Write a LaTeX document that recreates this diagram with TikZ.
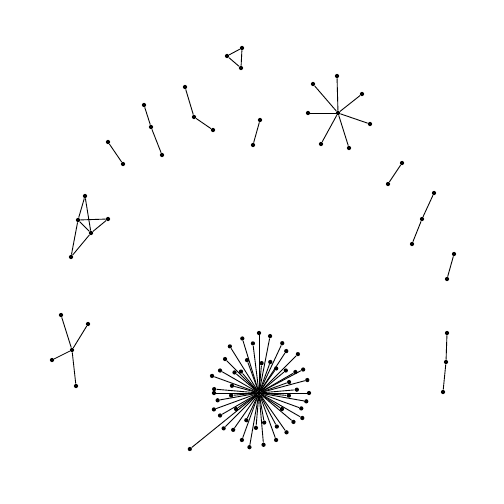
\documentclass[tikz,border=0pt]{standalone}
\usepackage{tikz}
\usetikzlibrary{calc}

\begin{document}
\begin{tikzpicture}[
    x=0.02cm, y=-0.02cm,
    v/.style={circle, fill, inner sep=0pt, minimum size=2.4pt},
    e/.style={line width=0.5pt},
  ]
  \useasboundingbox (0,0) rectangle (504,504);

  % big star
  \node[v] (hub) at (259,393) {};
  \foreach \a/\r [count=\i] in {-90/60, -79/58, -107/57, -97/50, -65/55, -122/55,
      -57/50, -45/55, -135/48, -40/35, -70/33, -110/35, -150/45, -28/50,
      -160/50, -15/50, -5/38, -175/45, -165/28, -20/32, -85/30, 0/50, 5/30,
      180/45, 175/28, 10/48, 170/42, 20/45, 160/48, 30/50, 150/45, 145/28,
      40/45, 135/50, 125/45, 55/48, 110/50, 100/55, 85/52, 70/50, 62/38,
      115/30, 95/35, 80/30, -55/30, -130/28, 35/28, -30/42, -140/32, 141/89}
  {
    \node[v] (s\i) at ($(hub)+(\a:\r)$) {};
    \draw[e] (hub) -- (s\i);
  }

  % small star
  \node[v] (hb) at (338,113) {};
  \node[v] (b1) at (337,76) {};
  \node[v] (b2) at (313,84) {};
  \node[v] (b3) at (362,94) {};
  \node[v] (b4) at (308,113) {};
  \node[v] (b5) at (370,124) {};
  \node[v] (b6) at (321,144) {};
  \node[v] (b7) at (349,148) {};
  \foreach \j in {1,...,7} \draw[e] (hb) -- (b\j);

  % four-leaf tree
  \node[v] (hy) at (72,350) {};
  \node[v] (y1) at (61,315) {};
  \node[v] (y2) at (88,324) {};
  \node[v] (y3) at (52,360) {};
  \node[v] (y4) at (76,386) {};
  \foreach \j in {1,...,4} \draw[e] (hy) -- (y\j);

  % five nodes
  \node[v] (ka) at (85,196) {};
  \node[v] (kb) at (78,220) {};
  \node[v] (kc) at (108,219) {};
  \node[v] (kd) at (91,233) {};
  \node[v] (ke) at (71,257) {};
  \draw[e] (ka) -- (kb);
  \draw[e] (ka) -- (kd);
  \draw[e] (kb) -- (kc);
  \draw[e] (kb) -- (kd);
  \draw[e] (kb) -- (ke);
  \draw[e] (kc) -- (kd);
  \draw[e] (kd) -- (ke);

  % triangle
  \node[v] (t1) at (227,56) {};
  \node[v] (t2) at (242,48) {};
  \node[v] (t3) at (241,68) {};
  \draw[e] (t1) -- (t2) -- (t3) -- (t1);

  % pairs and paths
  \node[v] (p1a) at (108,142) {};
  \node[v] (p1b) at (123,164) {};
  \draw[e] (p1a) -- (p1b);

  \node[v] (q1a) at (144,105) {};
  \node[v] (q1b) at (151,127) {};
  \node[v] (q1c) at (162,155) {};
  \draw[e] (q1a) -- (q1b) -- (q1c);

  \node[v] (q2a) at (185,87) {};
  \node[v] (q2b) at (194,117) {};
  \node[v] (q2c) at (213,130) {};
  \draw[e] (q2a) -- (q2b) -- (q2c);

  \node[v] (p2a) at (260,120) {};
  \node[v] (p2b) at (253,145) {};
  \draw[e] (p2a) -- (p2b);

  \node[v] (p3a) at (402,163) {};
  \node[v] (p3b) at (388,184) {};
  \draw[e] (p3a) -- (p3b);

  \node[v] (q3a) at (434,193) {};
  \node[v] (q3b) at (422,219) {};
  \node[v] (q3c) at (412,244) {};
  \draw[e] (q3a) -- (q3b) -- (q3c);

  \node[v] (p4a) at (454,254) {};
  \node[v] (p4b) at (447,279) {};
  \draw[e] (p4a) -- (p4b);

  \node[v] (q4a) at (447,333) {};
  \node[v] (q4b) at (446,362) {};
  \node[v] (q4c) at (443,392) {};
  \draw[e] (q4a) -- (q4b) -- (q4c);
\end{tikzpicture}
\end{document}
